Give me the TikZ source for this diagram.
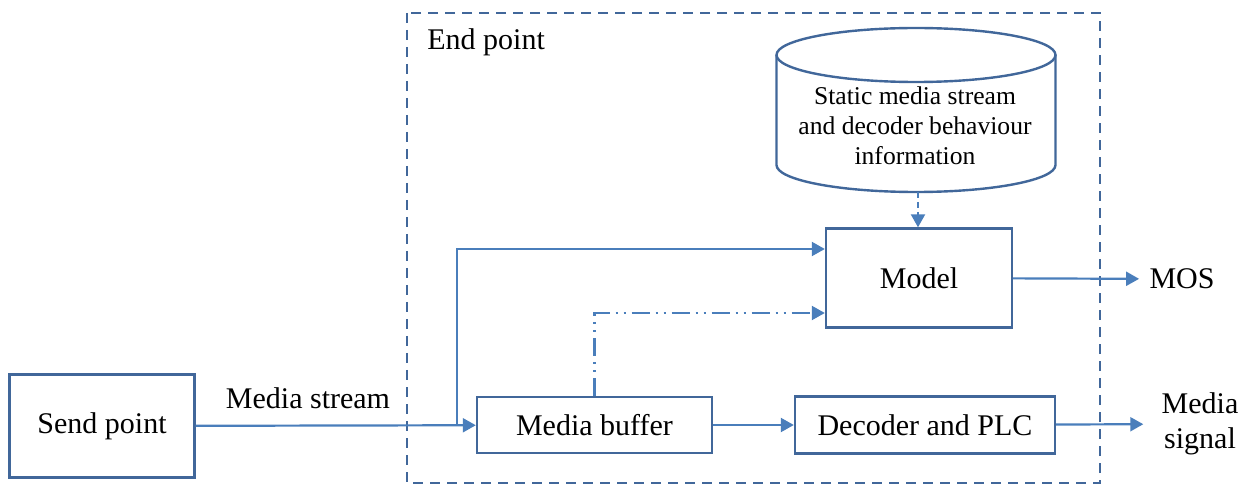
\documentclass[tikz,border=0pt]{standalone}
\usepackage{fontspec}
\setmainfont{Liberation Serif}
\usetikzlibrary{arrows.meta}
\definecolor{lineblue}{HTML}{4A7EBB}
\definecolor{boxblue}{HTML}{41679A}

\begin{document}
\begin{tikzpicture}[x=0.5pt,y=-0.5pt,>={Triangle[length=6.5pt,width=7pt]},
  box/.style={draw=boxblue,line width=1.2pt,inner sep=0,font=\fontsize{15}{18}\selectfont},
  flow/.style={draw=lineblue,line width=1.1pt,->},
  txt/.style={font=\fontsize{15}{18}\selectfont,inner sep=0}]
\useasboundingbox (0,0) rectangle (1248,486);
% end point frame
\draw[boxblue,line width=1pt,dash pattern=on 5pt off 3.5pt] (407,13) rectangle (1100,483);
\node[txt,anchor=west] (ep) at (427,42) {End point};
% blocks
\node[box,minimum width=92.5pt,minimum height=51.5pt] (send) at (102,426) {Send point};
\node[box,minimum width=117.5pt,minimum height=28pt] (buffer) at (594.5,425) {Media buffer};
\node[box,minimum width=130pt,minimum height=28.5pt] (decoder) at (925,425) {Decoder and PLC};
\node[box,minimum width=93pt,minimum height=49.5pt] (model) at (919,278) {Model};
% information store
\draw[boxblue,line width=1.2pt] (916,55) ellipse [x radius=139.5,y radius=27];
\draw[boxblue,line width=1.2pt] (776.5,55) -- (776.5,165)
  arc [start angle=180,end angle=360,x radius=139.5,y radius=-27] -- (1055.5,55);
\coordinate (dbbottom) at (918,192);
\node[txt,font=\fontsize{12.8}{15}\selectfont,align=center] (dbtext) at (915,126)
  {Static media stream\\and decoder behaviour\\information};
% outputs
\node[txt] (mos) at (1182,279) {MOS};
\node[txt,align=center,font=\fontsize{15}{17.5}\selectfont] (signal) at (1200,424) {Media\\signal};
\node[txt] (stream) at (308,398) {Media stream};
% connectors
\coordinate (split) at (457,426);
\draw[flow] (send) -- (buffer);
\draw[flow] (split) |- ([yshift=14.5pt]model.west);
\draw[flow,dash pattern=on 9pt off 3pt on 1pt off 3pt on 1pt off 3pt] (buffer.north) |- ([yshift=-17.5pt]model.west);
\draw[flow,dash pattern=on 3pt off 2pt] (dbbottom) -- (dbbottom |- model.north);
\draw[flow] (buffer) -- (decoder);
\draw[flow,shorten >=5pt] (model) -- (mos);
\draw[flow,shorten >=9pt] (decoder) -- (signal);
\end{tikzpicture}
\end{document}
